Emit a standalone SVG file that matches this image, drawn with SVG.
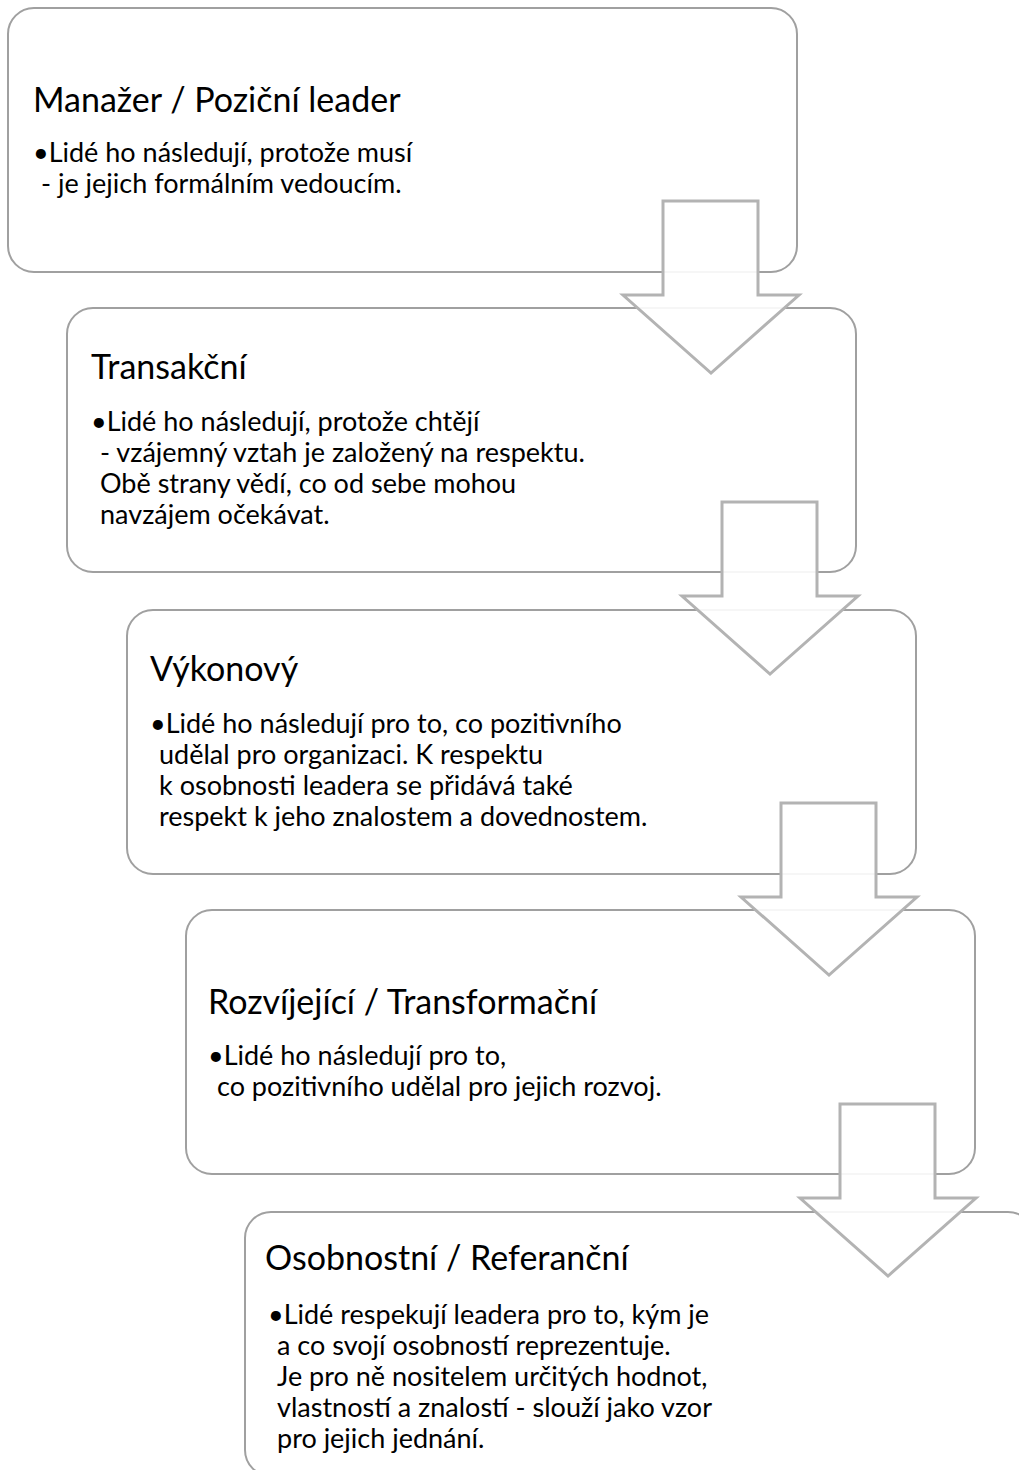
<svg xmlns="http://www.w3.org/2000/svg" width="1019" height="1470" viewBox="0 0 1019 1470">
<style>
.box{fill:#fff;stroke:#a0a0a0;stroke-width:2}
.arr{fill:#fff;fill-opacity:0.9;stroke:#b3b3b3;stroke-width:3}
.t{font-family:Lato,"Liberation Sans",sans-serif;font-size:34px;fill:#000}
.b{font-family:Lato,"Liberation Sans",sans-serif;font-size:27px;fill:#000}
</style>
<rect width="1019" height="1470" fill="#fff"/>
<g id="node1">
<rect class="box" x="8" y="8" width="789" height="264" rx="26"/>
<text class="t" x="33" y="112">Manažer / Poziční leader</text>
<text class="b" x="33" y="162">•Lidé ho následují, protože musí</text>
<text class="b" x="41" y="193">- je jejich formálním vedoucím.</text>
</g>
<g id="node2">
<rect class="box" x="67" y="308" width="789" height="264" rx="26"/>
<text class="t" x="91" y="379">Transakční</text>
<text class="b" x="91" y="431">•Lidé ho následují, protože chtějí</text>
<text class="b" x="100" y="462">- vzájemný vztah je založený na respektu.</text>
<text class="b" x="100" y="493">Obě strany vědí, co od sebe mohou</text>
<text class="b" x="100" y="524">navzájem očekávat.</text>
</g>
<g id="node3">
<rect class="box" x="127" y="610" width="789" height="264" rx="26"/>
<text class="t" x="150" y="681">Výkonový</text>
<text class="b" x="150" y="733">•Lidé ho následují pro to, co pozitivního</text>
<text class="b" x="159" y="764">udělal pro organizaci. K respektu</text>
<text class="b" x="159" y="795">k osobnosti leadera se přidává také</text>
<text class="b" x="159" y="826">respekt k jeho znalostem a dovednostem.</text>
</g>
<g id="node4">
<rect class="box" x="186" y="910" width="789" height="264" rx="26"/>
<text class="t" x="208" y="1014">Rozvíjející / Transformační</text>
<text class="b" x="208" y="1065">•Lidé ho následují pro to,</text>
<text class="b" x="217" y="1096">co pozitivního udělal pro jejich rozvoj.</text>
</g>
<g id="node5">
<rect class="box" x="245" y="1212" width="789" height="264" rx="26"/>
<text class="t" x="265" y="1270">Osobnostní / Referanční</text>
<text class="b" x="268" y="1324">•Lidé respekují leadera pro to, kým je</text>
<text class="b" x="277" y="1355">a co svojí osobností reprezentuje.</text>
<text class="b" x="277" y="1386">Je pro ně nositelem určitých hodnot,</text>
<text class="b" x="277" y="1417">vlastností a znalostí - slouží jako vzor</text>
<text class="b" x="277" y="1448">pro jejich jednání.</text>
</g>
<g id="connectors">
<path class="arr" d="M663,201 H758 V295 H799 L711,373 L623,295 H663 Z"/>
<path class="arr" transform="translate(59,301)" d="M663,201 H758 V295 H799 L711,373 L623,295 H663 Z"/>
<path class="arr" transform="translate(118,602)" d="M663,201 H758 V295 H799 L711,373 L623,295 H663 Z"/>
<path class="arr" transform="translate(177,903)" d="M663,201 H758 V295 H799 L711,373 L623,295 H663 Z"/>
</g>
</svg>
